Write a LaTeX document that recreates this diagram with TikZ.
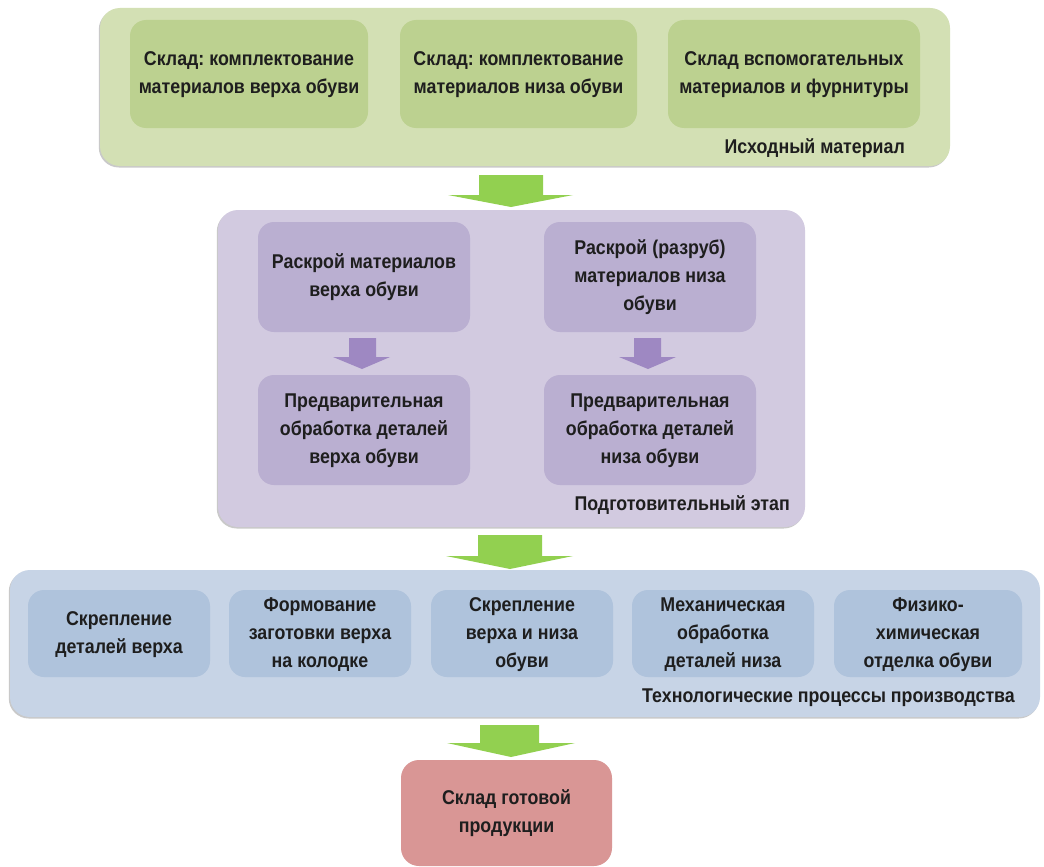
\documentclass[tikz,border=0pt]{standalone}
\usepackage{fontspec}
\usepackage{graphicx}
\setmainfont{Liberation Sans}
\usetikzlibrary{shadows}
\definecolor{gout}{HTML}{D3E0B4}
\definecolor{gin}{HTML}{BCD190}
\definecolor{pout}{HTML}{D2CAE0}
\definecolor{pin}{HTML}{BAAFD1}
\definecolor{bout}{HTML}{C7D4E6}
\definecolor{bin}{HTML}{AFC3DC}
\definecolor{rbox}{HTML}{D99695}
\definecolor{garr}{HTML}{92D050}
\definecolor{parr}{HTML}{9E88C2}
\definecolor{txt}{HTML}{1E1E1E}
\frenchspacing
\newcommand\tall[1]{\scalebox{1}[1.12]{\begin{tabular}{@{}c@{}}#1\end{tabular}}}
\begin{document}
\begin{tikzpicture}[x=1pt,y=-1pt,
  font=\bfseries\fontsize{17.8}{25}\selectfont,
  outer/.style={rectangle,rounded corners=20pt,inner sep=0pt,
    drop shadow={shadow xshift=-1.2pt,shadow yshift=-1.5pt,opacity=0.35,fill=black!60}},
  inner/.style={rectangle,rounded corners=16pt,inner sep=0pt,align=center,text=txt},
  lbl/.style={anchor=east,text=txt,inner sep=0pt}]
\useasboundingbox (0,0) rectangle (1044,867);
\fill[white] (0,0) rectangle (1044,867);
% green group
\node[outer,fill=gout,minimum width=850pt,minimum height=158pt] (G) at (525,87) {};
\node[inner,fill=gin,minimum width=238pt,minimum height=108pt] (g1) at (249,74) {\tall{Склад: комплектование\\материалов верха обуви}};
\node[inner,fill=gin,minimum width=237pt,minimum height=108pt] (g2) at (518.5,74) {\tall{Склад: комплектование\\материалов низа обуви}};
\node[inner,fill=gin,minimum width=252pt,minimum height=108pt] (g3) at (794,74) {\tall{Склад вспомогательных\\материалов и фурнитуры}};
\node[lbl] (gl) at (905,148) {\tall{Исходный материал}};
% purple group
\node[outer,fill=pout,minimum width=587pt,minimum height=317pt] (P) at (511.5,368.5) {};
\node[inner,fill=pin,minimum width=212pt,minimum height=110pt] (p1) at (364,277) {\tall{Раскрой материалов\\верха обуви}};
\node[inner,fill=pin,minimum width=212pt,minimum height=110pt] (p2) at (650,277) {\tall{Раскрой (разруб)\\материалов низа\\обуви}};
\node[inner,fill=pin,minimum width=212pt,minimum height=110pt] (p3) at (364,430) {\tall{Предварительная\\обработка деталей\\верха обуви}};
\node[inner,fill=pin,minimum width=212pt,minimum height=110pt] (p4) at (650,430) {\tall{Предварительная\\обработка деталей\\низа обуви}};
\node[lbl] (pl) at (790,505) {\tall{Подготовительный этап}};
% blue group
\node[outer,fill=bout,minimum width=1030pt,minimum height=147pt] (B) at (525,643.5) {};
\node[inner,fill=bin,minimum width=182pt,minimum height=87pt] (b1) at (119,633.5) {\tall{Скрепление\\деталей верха}};
\node[inner,fill=bin,minimum width=182pt,minimum height=87pt] (b2) at (320,633.5) {\tall{Формование\\заготовки верха\\на колодке}};
\node[inner,fill=bin,minimum width=182pt,minimum height=87pt] (b3) at (522,633.5) {\tall{Скрепление\\верха и низа\\обуви}};
\node[inner,fill=bin,minimum width=182pt,minimum height=87pt] (b4) at (723,633.5) {\tall{Механическая\\обработка\\деталей низа}};
\node[inner,fill=bin,minimum width=188pt,minimum height=87pt] (b5) at (928,633.5) {\tall{Физико-\\химическая\\отделка обуви}};
\node[lbl] (bl) at (1015,697) {\tall{Технологические процессы производства}};
% final
\node[inner,fill=rbox,rounded corners=18pt,minimum width=211pt,minimum height=106pt] (R) at (506.5,813) {\tall{Склад готовой\\продукции}};
% block arrows
\fill[garr] (479,175) -- (543,175) -- (543,195) -- (573,195) -- (511,207) -- (448,195) -- (479,195) -- cycle;
\fill[garr] (478,535) -- (542,535) -- (542,556) -- (573,556) -- (510,569) -- (446,556) -- (478,556) -- cycle;
\fill[garr] (480,725) -- (539,725) -- (539,743) -- (575,743) -- (511,757) -- (447,743) -- (480,743) -- cycle;
\fill[parr] (349,338) -- (376,338) -- (376,357) -- (390,357) -- (362,369) -- (333,357) -- (349,357) -- cycle;
\fill[parr] (634,338) -- (661,338) -- (661,357) -- (676,357) -- (648,369) -- (619,357) -- (634,357) -- cycle;
\end{tikzpicture}
\end{document}
